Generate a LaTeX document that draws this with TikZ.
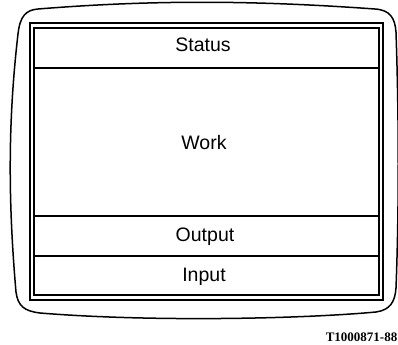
\documentclass[tikz,border=0pt]{standalone}
\usepackage{fontspec}
\setmainfont{Liberation Sans}
\newfontfamily\labfont{Liberation Serif}
\begin{document}
\begin{tikzpicture}[x=1bp,y=-1bp,
  line width=1.4bp,
  sectlabel/.style={anchor=base,inner sep=0pt,font=\fontsize{19.5bp}{22bp}\selectfont},
  figlabel/.style={anchor=base east,inner sep=0pt,font=\labfont\bfseries\fontsize{13bp}{15bp}\selectfont}]
\useasboundingbox (0,0) rectangle (398,345);
% screen outline
\draw[line width=1.5bp] (38,9) .. controls (150,0) and (250,0) .. (375,9)
  .. controls (390,10) and (395,18) .. (396,32)
  .. controls (399,120) and (399,210) .. (396,288)
  .. controls (395,302) and (390,310) .. (376,312)
  .. controls (300,319) and (150,322) .. (40,313)
  .. controls (24,311) and (18,306) .. (16,292)
  .. controls (8,200) and (8,120) .. (18,34)
  .. controls (20,16) and (26,10) .. (38,9) -- cycle;
% double frame
\coordinate (oNW) at (30,23);
\coordinate (oSE) at (383,300);
\coordinate (iNW) at (34,28);
\coordinate (iSE) at (379,295);
\draw (oNW) rectangle (oSE);
\draw (iNW) rectangle (iSE);
% dividers
\coordinate (d1l) at (34,68);  \coordinate (d1r) at (379,68);
\coordinate (d2l) at (34,216); \coordinate (d2r) at (379,216);
\coordinate (d3l) at (34,256); \coordinate (d3r) at (379,256);
\draw (d1l) -- (d1r);
\draw (d2l) -- (d2r);
\draw (d3l) -- (d3r);
% labels
\node[sectlabel] (status) at (203,51) {Status};
\node[sectlabel] (work) at (204,149) {Work};
\node[sectlabel] (output) at (205,241) {Output};
\node[sectlabel] (input) at (204,281) {Input};
\node[figlabel] (fig) at (398,341) {T1000871-88};
\end{tikzpicture}
\end{document}
